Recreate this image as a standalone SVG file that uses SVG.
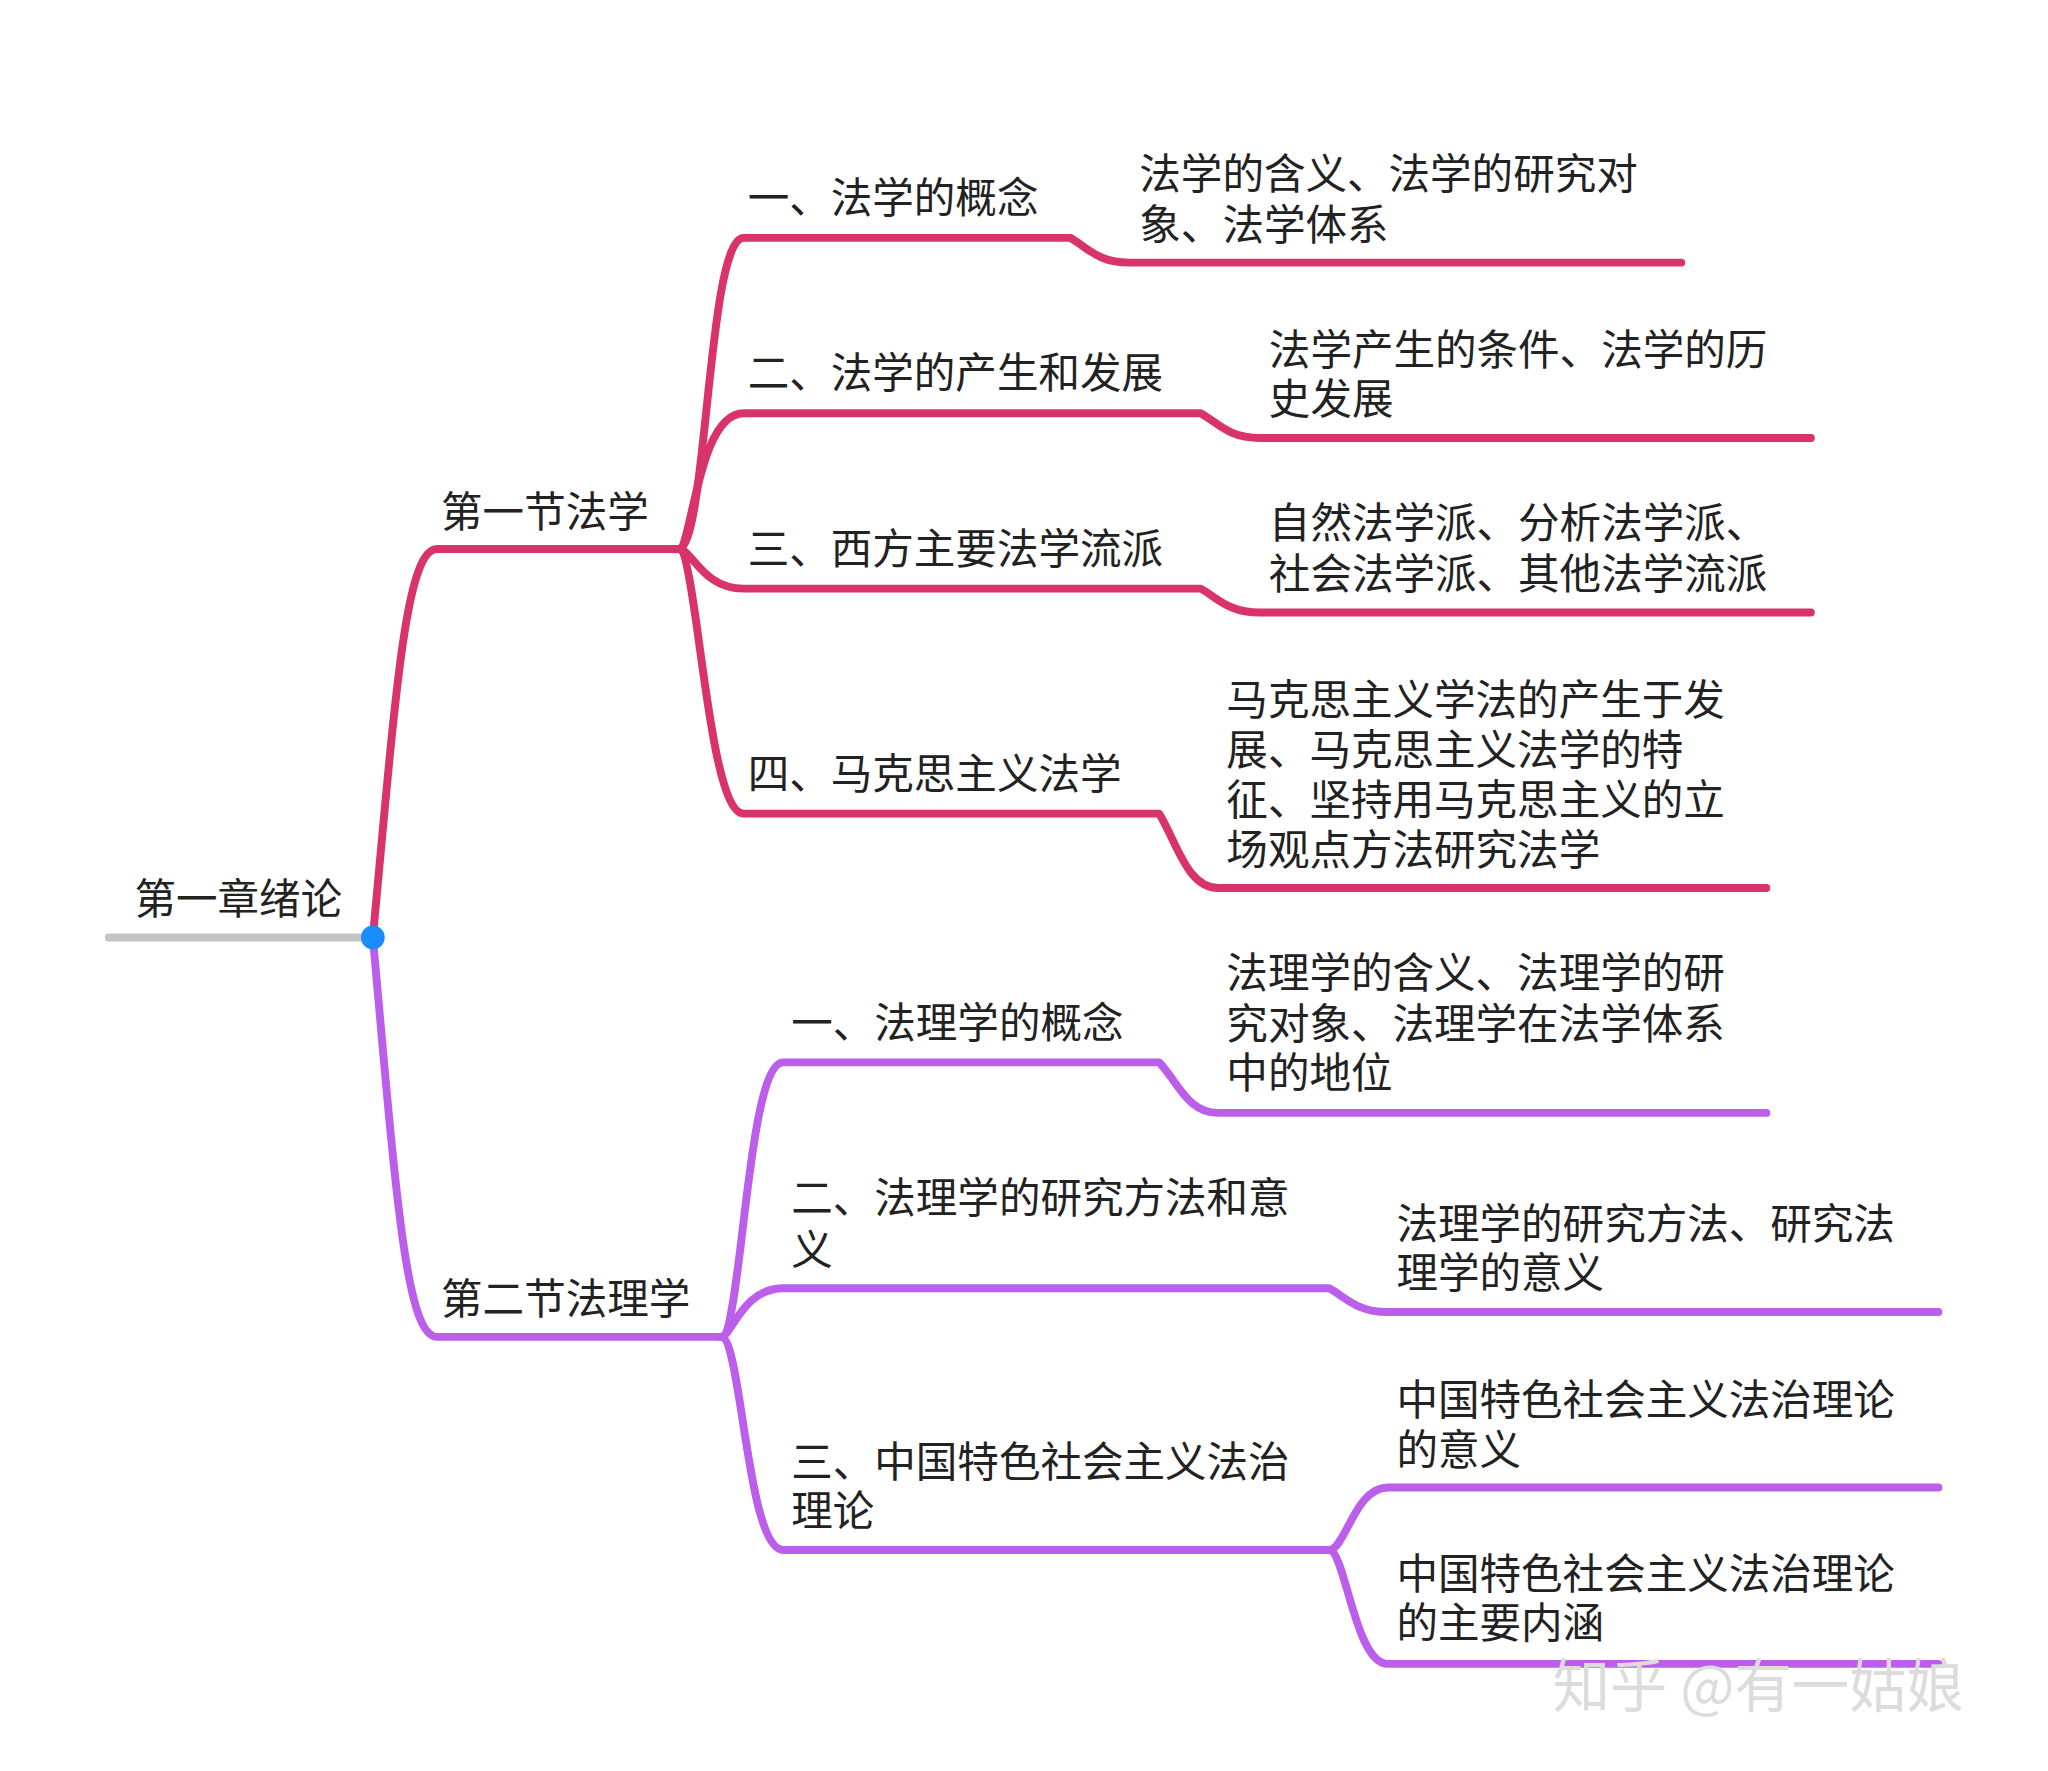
<svg xmlns="http://www.w3.org/2000/svg" width="2048" height="1771" viewBox="0 0 2048 1771">
<style>
text{font-family:"Noto Sans CJK SC","Noto Sans",sans-serif;font-size:42px;fill:#222}
.r{fill:none;stroke:#d8336b;stroke-width:8;stroke-linecap:round;stroke-linejoin:round}
.p{fill:none;stroke:#bb5fea;stroke-width:8;stroke-linecap:round;stroke-linejoin:round}
.wm{font-size:58px;fill:#dcdcdc}
</style>
<rect width="2048" height="1771" fill="#fff"/>
<g transform="scale(0.989,0.991)">
<g id="connectors">
<line x1="110" y1="946" x2="377" y2="946" stroke="#c4c4c4" stroke-width="8" stroke-linecap="round"/>
<path class="r" d="M377,946 C400,700 410,554 442,554 L686,554"/>
<path class="r" d="M686,554 C715,554 715,240 752,240 L1082,240 C1100,250 1110,265 1142,265 L1700,265"/>
<path class="r" d="M686,554 C700,554 705,417 752,417 L1214,417 C1232,427 1242,442 1274,442 L1831,442"/>
<path class="r" d="M686,554 C700,554 710,594 752,594 L1214,594 C1232,604 1242,618 1274,618 L1831,618"/>
<path class="r" d="M686,554 C705,554 715,821 752,821 L1172,821 C1190,850 1200,896 1232,896 L1786,896"/>
<path class="p" d="M377,946 C400,1200 410,1349 442,1349 L729,1349"/>
<path class="p" d="M729,1349 C750,1349 755,1072 792,1072 L1172,1072 C1190,1090 1200,1123 1232,1123 L1786,1123"/>
<path class="p" d="M729,1349 C740,1349 750,1300 792,1300 L1344,1300 C1362,1310 1372,1324 1403,1324 L1960,1324"/>
<path class="p" d="M729,1349 C750,1349 755,1564 792,1564 L1344,1564"/>
<path class="p" d="M1344,1564 C1360,1564 1370,1501 1403,1501 L1960,1501"/>
<path class="p" d="M1344,1564 C1360,1564 1370,1679 1403,1679 L1960,1679"/>
<circle cx="377" cy="946" r="12" fill="#1a8cff"/>
</g>
<g id="root"><text x="136" y="922">第一章绪论</text></g>
<g id="s1"><text x="446" y="532">第一节法学</text></g>
<g id="s1c1"><text x="756" y="215">一、法学的概念</text></g>
<g id="s1c1d"><text x="1152" y="191">法学的含义、法学的研究对</text><text x="1152" y="242">象、法学体系</text></g>
<g id="s1c2"><text x="756" y="392">二、法学的产生和发展</text></g>
<g id="s1c2d"><text x="1283" y="368">法学产生的条件、法学的历</text><text x="1283" y="418">史发展</text></g>
<g id="s1c3"><text x="756" y="569">三、西方主要法学流派</text></g>
<g id="s1c3d"><text x="1283" y="543">自然法学派、分析法学派、</text><text x="1283" y="594">社会法学派、其他法学流派</text></g>
<g id="s1c4"><text x="756" y="796">四、马克思主义法学</text></g>
<g id="s1c4d"><text x="1240" y="721">马克思主义学法的产生于发</text><text x="1240" y="772">展、马克思主义法学的特</text><text x="1240" y="822">征、坚持用马克思主义的立</text><text x="1240" y="873">场观点方法研究法学</text></g>
<g id="s2"><text x="446" y="1326">第二节法理学</text></g>
<g id="s2c1"><text x="800" y="1047">一、法理学的概念</text></g>
<g id="s2c1d"><text x="1240" y="997">法理学的含义、法理学的研</text><text x="1240" y="1048">究对象、法理学在法学体系</text><text x="1240" y="1098">中的地位</text></g>
<g id="s2c2"><text x="800" y="1224">二、法理学的研究方法和意</text><text x="800" y="1276">义</text></g>
<g id="s2c2d"><text x="1412" y="1250">法理学的研究方法、研究法</text><text x="1412" y="1300">理学的意义</text></g>
<g id="s2c3"><text x="800" y="1490">三、中国特色社会主义法治</text><text x="800" y="1540">理论</text></g>
<g id="s2c3a"><text x="1412" y="1428">中国特色社会主义法治理论</text><text x="1412" y="1478">的意义</text></g>
<g id="s2c3b"><text x="1412" y="1603">中国特色社会主义法治理论</text><text x="1412" y="1653">的主要内涵</text></g>
<text class="wm" x="1570" y="1723">知乎 @有一姑娘</text>
</g>
</svg>
